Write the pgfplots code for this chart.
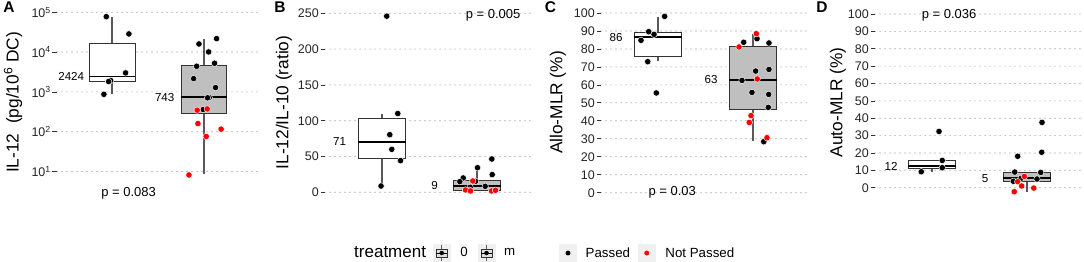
\documentclass[border=0pt]{standalone}
\usepackage{fontspec}
\setmainfont{Liberation Sans}
\usepackage{pgfplots}
\pgfplotsset{compat=1.18}
\usepgfplotslibrary{statistics}
\pgfplotsset{
  panel/.style={
    scale only axis, width=209pt, height=195pt,
    xmin=0.4, xmax=2.6, anchor=south west, clip=false,
    axis x line=none, axis y line*=left,
    y axis line style={draw=none},
    xtick=\empty,
    tick align=outside, major tick length=4.5pt, minor tick length=0pt,
    ytick style={draw=black!80, line width=0.7pt},
    ymajorgrids,
    grid style={draw=black!45, line width=1.2pt, line cap=round, dash pattern=on 0pt off 5pt},
    yticklabel style={font=\fontsize{12.5}{14}\selectfont, text=black!85, inner xsep=1.5pt},
    /pgf/number format/assume math mode=true,
    boxplot/draw direction=y,
    boxplot/box extend=0.5,
    boxplot/whisker extend=0,
    boxplot/every box/.style={draw=black!80, line width=0.8pt},
    boxplot/every whisker/.style={draw=black!65, line width=1.3pt},
    boxplot/every median/.style={draw=black, line width=1.8pt},
  },
  blk/.style={only marks, mark=*, mark size=3.2pt, mark options={fill=black, draw=white, line width=0.45pt}},
  rd/.style={only marks, mark=*, mark size=3.2pt, mark options={fill=red, draw=white, line width=0.45pt}},
}
\newcommand{\medfont}{\fontsize{11.6}{13}\selectfont}
\newcommand{\pfont}{\fontsize{13}{15}\selectfont}
\begin{document}
\begin{tikzpicture}
\path[use as bounding box, fill=white] (0pt,0pt) rectangle (1084pt,262pt);

% ---------------- Panel A ----------------
\begin{axis}[panel, at={(57pt,62pt)}, width=202pt,
  ymode=log, ymin=1.923, ymax=152400,
  ytick={10,100,1000,10000,100000},
  yticklabels={10\textsuperscript{1},10\textsuperscript{2},10\textsuperscript{3},10\textsuperscript{4},10\textsuperscript{5}}]
\addplot[boxplot prepared={draw position=1, median=2424, upper quartile=16300, lower quartile=1850, upper whisker=77600, lower whisker=880}, fill=white] coordinates {};
\addplot[boxplot prepared={draw position=2, median=743, upper quartile=4580, lower quartile=286, upper whisker=21000, lower whisker=8.6}, fill=black!25] coordinates {};
\addplot[blk] table[row sep=\\] {x y\\ 0.937 77600\\ 1.183 28600\\ 1.147 3000\\ 0.984 1930\\ 0.962 1820\\ 0.911 870\\};
\addplot[blk] table[row sep=\\] {x y\\ 1.946 16000\\ 2.138 21800\\ 2.051 10100\\ 1.921 4400\\ 2.116 5250\\ 1.888 2160\\ 2.127 1285\\ 2.058 720\\ 2.040 710\\ 1.992 360\\};
\addplot[rd] table[row sep=\\] {x y\\ 1.927 347\\ 2.036 374\\ 1.935 160\\ 2.188 116\\ 2.025 76\\ 1.837 8.2\\};
\node[anchor=east, font=\medfont] at (axis cs:0.734,2424) {2424};
\node[anchor=east, font=\medfont] at (axis cs:1.717,743) {743};
\node[font=\pfont] at (axis cs:1.18,2.9) {p = 0.083};
\end{axis}

% ---------------- Panel B ----------------
\begin{axis}[panel, at={(325pt,62pt)},
  ymin=-10.75, ymax=261.6, ytick={0,50,...,250}]
\addplot[boxplot prepared={draw position=1, median=70.7, upper quartile=103, lower quartile=47.4, upper whisker=110, lower whisker=8.8}, fill=white] coordinates {};
\addplot[boxplot prepared={draw position=2, median=9.3, upper quartile=16.7, lower quartile=3.3, upper whisker=35.8, lower whisker=1.2}, fill=black!25] coordinates {};
\addplot[blk] table[row sep=\\] {x y\\ 0.990 8.8\\ 1.195 44.2\\ 1.103 60\\ 1.082 80.5\\ 1.166 110\\ 1.050 246\\};
\addplot[blk] table[row sep=\\] {x y\\ 2.156 46.5\\ 2.160 24.7\\ 2.005 34.4\\ 1.855 20\\ 1.819 14.9\\ 1.984 15.3\\ 2.086 8.4\\ 1.928 7.0\\ 1.921 2.8\\};
\addplot[rd] table[row sep=\\] {x y\\ 1.956 15.8\\ 1.879 3.3\\ 1.932 1.9\\ 2.153 1.9\\ 2.195 2.8\\};
\node[anchor=east, font=\medfont] at (axis cs:0.658,70.7) {71};
\node[anchor=east, font=\medfont] at (axis cs:1.626,9.3) {9};
\node[font=\pfont] at (axis cs:2.17,247.6) {p = 0.005};
\end{axis}

% ---------------- Panel C ----------------
\begin{axis}[panel, at={(601pt,62pt)},
  ymin=-4.06, ymax=104.45, ytick={0,10,...,100}]
\addplot[boxplot prepared={draw position=1, median=86.5, upper quartile=89.2, lower quartile=75.7, upper whisker=98, lower whisker=73.3}, fill=white] coordinates {};
\addplot[boxplot prepared={draw position=2, median=62.9, upper quartile=81.6, lower quartile=46.2, upper whisker=88.5, lower whisker=28.8}, fill=black!25] coordinates {};
\addplot[blk] table[row sep=\\] {x y\\ 1.070 98.1\\ 0.902 89.6\\ 0.958 88.1\\ 0.821 84.8\\ 0.892 72.9\\ 0.982 55.5\\};
\addplot[blk] table[row sep=\\] {x y\\ 1.902 83.7\\ 2.042 85.7\\ 2.168 83.3\\ 2.028 67.7\\ 2.168 68.6\\ 1.884 62.5\\ 1.989 55.8\\ 2.165 54.7\\ 2.161 47.5\\ 2.113 28.4\\};
\addplot[rd] table[row sep=\\] {x y\\ 2.035 88.5\\ 1.853 81.1\\ 2.045 63.3\\ 1.979 42.9\\ 1.961 39.1\\ 2.147 30.6\\};
\node[anchor=east, font=\medfont] at (axis cs:0.663,86.5) {86};
\node[anchor=east, font=\medfont] at (axis cs:1.663,62.9) {63};
\node[font=\pfont] at (axis cs:1.15,0) {p = 0.03};
\end{axis}

% ---------------- Panel D ----------------
\begin{axis}[panel, at={(875pt,62pt)},
  ymin=-7.08, ymax=105.2, ytick={0,10,...,100}]
\addplot[boxplot prepared={draw position=1, median=12.4, upper quartile=15.8, lower quartile=11.3, upper whisker=15.8, lower whisker=9.2}, fill=white] coordinates {};
\addplot[boxplot prepared={draw position=2, median=5.4, upper quartile=9.0, lower quartile=3.5, upper whisker=9.0, lower whisker=-2.3}, fill=black!25] coordinates {};
\addplot[blk] table[row sep=\\] {x y\\ 1.074 32.4\\ 1.108 15.7\\ 1.108 11.5\\ 0.887 9.2\\};
\addplot[blk] table[row sep=\\] {x y\\ 2.158 37.6\\ 2.155 20.4\\ 1.902 18.1\\ 1.871 9.0\\ 2.144 8.8\\ 2.105 5.0\\ 1.856 3.7\\ 1.937 5.4\\};
\addplot[rd] table[row sep=\\] {x y\\ 1.972 6.5\\ 1.902 3.5\\ 1.944 1.0\\ 2.071 -0.2\\ 1.866 -2.3\\};
\node[anchor=east, font=\medfont] at (axis cs:0.674,12.4) {12};
\node[anchor=east, font=\medfont] at (axis cs:1.630,5.4) {5};
\node[font=\pfont] at (axis cs:1.18,99.4) {p = 0.036};
\end{axis}

% ---------------- Legend (hidden axis) ----------------
\begin{axis}[at={(325pt,62pt)}, anchor=south west, scale only axis, width=209pt, height=195pt,
  xmin=0, xmax=1, ymin=0, ymax=1, hide axis,
  legend columns=-1, legend cell align=left,
  legend style={at={(axis description cs:0.1388,-0.272)}, anchor=west, draw=none, fill=none,
    inner sep=0pt, font=\fontsize{13.3}{15}\selectfont, nodes={inner sep=0pt}}]
\addlegendimage{empty legend}
\addlegendentry{\fontsize{17}{19}\selectfont treatment\kern7pt}
\addlegendimage{legend image code/.code={
  \fill[black!6] (0pt,-8.5pt) rectangle (17pt,8.5pt);
  \draw[black!62, line width=0.8pt] (8.5pt,-8pt) -- (8.5pt,8pt);
  \filldraw[fill=black!12, draw=black!80, line width=0.6pt] (3pt,-4pt) rectangle (14pt,4pt);
  \draw[black, line width=0.8pt] (3pt,0pt) -- (14pt,0pt);
  \fill[black] (8.5pt,0pt) circle (2pt);}}
\addlegendentry{\kern10pt 0\kern10pt}
\addlegendimage{legend image code/.code={
  \fill[black!6] (0pt,-8.5pt) rectangle (17pt,8.5pt);
  \draw[black!62, line width=0.8pt] (8.5pt,-8pt) -- (8.5pt,8pt);
  \filldraw[fill=black!12, draw=black!80, line width=0.6pt] (3pt,-4pt) rectangle (14pt,4pt);
  \draw[black, line width=0.8pt] (3pt,0pt) -- (14pt,0pt);
  \fill[black] (8.5pt,0pt) circle (2pt);}}
\addlegendentry{\kern9pt m\kern44pt}
\addlegendimage{legend image code/.code={
  \fill[black!6] (0pt,-8.5pt) rectangle (17pt,8.5pt);
  \fill[black] (8.5pt,0pt) circle (2.2pt);}}
\addlegendentry{\kern9pt Passed\kern8pt}
\addlegendimage{legend image code/.code={
  \fill[black!6] (0pt,-8.5pt) rectangle (17pt,8.5pt);
  \fill[red] (8.5pt,0pt) circle (2.2pt);}}
\addlegendentry{\kern10pt Not Passed}
\end{axis}

% ---------------- Titles and panel letters ----------------
\node[rotate=90, font=\fontsize{17.3}{19}\selectfont] at (13pt,159.5pt) {IL-12~ (pg/10\textsuperscript{6} DC)};
\node[rotate=90, font=\fontsize{17.3}{19}\selectfont] at (284pt,159.5pt) {IL-12/IL-10 (ratio)};
\node[rotate=90, font=\fontsize{17.3}{19}\selectfont] at (558pt,159.5pt) {Allo-MLR (\%)};
\node[rotate=90, font=\fontsize{17.3}{19}\selectfont] at (838pt,159.5pt) {Auto-MLR (\%)};
\node[font=\bfseries\fontsize{15.5}{17}\selectfont] at (9pt,254.5pt) {A};
\node[font=\bfseries\fontsize{15.5}{17}\selectfont] at (280pt,254.5pt) {B};
\node[font=\bfseries\fontsize{15.5}{17}\selectfont] at (550.5pt,254.5pt) {C};
\node[font=\bfseries\fontsize{15.5}{17}\selectfont] at (822pt,254.5pt) {D};
\end{tikzpicture}
\end{document}
